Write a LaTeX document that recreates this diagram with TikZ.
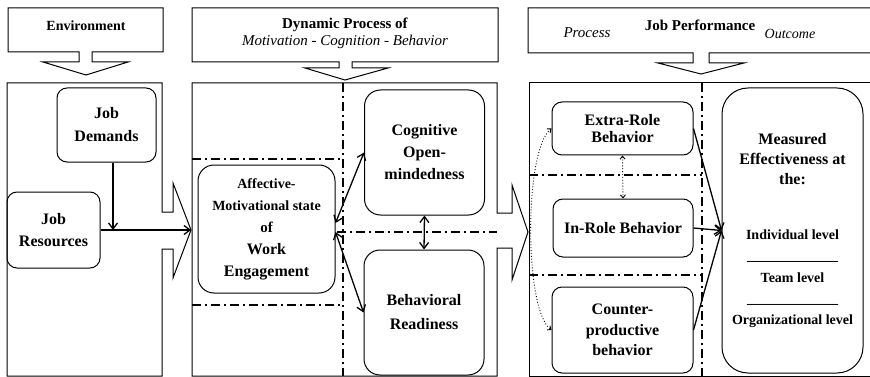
\documentclass[tikz,border=0pt]{standalone}
\usepackage{fontspec}
\setmainfont{Liberation Serif}
\usetikzlibrary{arrows.meta}
\def\fs#1#2{\fontsize{#1}{#2}\selectfont}
\def\uline{\textunderscore\textunderscore\textunderscore\textunderscore\textunderscore\textunderscore\textunderscore\textunderscore\textunderscore\textunderscore\textunderscore\textunderscore\textunderscore}
\tikzset{
	frame/.style={line width=1pt},
	rbox/.style={draw, line width=1pt, rounded corners=10pt, align=center, inner sep=0pt, font=\bfseries\fs{16}{20}},
	dashdot/.style={line width=1.3pt, dash pattern=on 9pt off 4pt on 2pt off 4pt},
	arr/.style={line width=1.3pt, -{Straight Barb[length=6pt,width=9pt]}},
	darr/.style={line width=1.3pt, {Straight Barb[length=6pt,width=9pt]}-{Straight Barb[length=6pt,width=9pt]}},
	dotarr/.style={line width=0.9pt, dotted, {Straight Barb[length=3pt,width=5pt]}-{Straight Barb[length=3pt,width=5pt]}}
}
\begin{document}
\begin{tikzpicture}[x=1pt,y=-1pt]
		%%%%% START %%%%%
		\useasboundingbox (0,0) rectangle (870,377);
		
		% headers with their arrows
		\draw[frame] (8,8) -- (163,8) -- (163,52) -- (92,52) -- (92,62) -- (128,62) -- (86,75) -- (43,62) -- (79,62) -- (79,52) -- (8,52) -- cycle;
		\draw[frame] (192,8) -- (498,8) -- (498,62) -- (352,62) -- (352,68) -- (388,68) -- (345,80) -- (305,68) -- (339,68) -- (339,62) -- (192,62) -- cycle;
		\draw[frame] (880,8) -- (528,8) -- (528,53) -- (693,53) -- (693,63) -- (658,63) -- (701,74) -- (744,63) -- (709,63) -- (709,53) -- (880,53);
		
		\node[font=\bfseries\fs{14}{17}] (henv) at (86,26) {Environment};
		\node[align=center, font=\fs{15}{17}] (hdyn) at (345,33) {\textbf{Dynamic Process of}\\\textit{Motivation - Cognition - Behavior}};
		\node[font=\bfseries\fs{15}{17}] (hjob) at (700,25) {Job Performance};
		\node[font=\itshape\fs{15}{17}] (hproc) at (587,33) {Process};
		\node[font=\itshape\fs{14}{17}] (hout) at (790,34) {Outcome};
		
		% panels
		\draw[frame] (162,83) -- (7,83) -- (7,376) -- (162,376) -- (162,249) -- (173,249) -- (173,278) -- (191,230) -- (173,183) -- (173,212) -- (162,212) -- cycle;
		\draw[frame] (497,83) -- (192,83) -- (192,376) -- (497,376) -- (497,248) -- (512,248) -- (512,280) -- (528,232) -- (512,185) -- (512,213) -- (497,213) -- cycle;
		\draw[frame] (880,83) -- (529,83) -- (529,376) -- (880,376);
		
		\draw[dashdot] (343,83) -- (343,376);
		\draw[dashdot] (192,159) -- (343,159);
		\draw[dashdot] (192,305) -- (343,305);
		\draw[dashdot] (337,232) -- (497,232);
		\draw[dashdot] (702,83) -- (702,376);
		\draw[dashdot] (529,175) -- (702,175);
		\draw[dashdot] (529,275) -- (702,275);
		
		% boxes
		\node[rbox, minimum width=99pt, minimum height=74pt, font=\bfseries\fs{16}{23}] (dem) at (106.5,125) {Job\\Demands};
		\node[rbox, minimum width=93pt, minimum height=76pt, font=\bfseries\fs{16}{22}] (res) at (53.5,230) {Job\\Resources};
		\node[rbox, rounded corners=16pt, minimum width=137pt, minimum height=128pt, font=\bfseries\fs{16}{22}] (aff) at (266.5,229) {{\fs{14}{22}Affective-}\\{\fs{14}{22}Motivational state}\\{\fs{15}{22}of}\\Work\\Engagement};
		\node[rbox, rounded corners=16pt, minimum width=120pt, minimum height=125pt, font=\bfseries\fs{16}{22}] (cog) at (424.5,152.5) {Cognitive\\Open-\\mindedness};
		\node[rbox, rounded corners=16pt, minimum width=120pt, minimum height=125pt, font=\bfseries\fs{16}{24}] (beh) at (424,312.5) {Behavioral\\Readiness};
		\node[rbox, minimum width=141pt, minimum height=53pt, font=\bfseries\fs{16}{17}] (ext) at (622.5,128.5) {Extra-Role\\Behavior};
		\node[rbox, minimum width=140pt, minimum height=58pt] (inr) at (623,228) {In-Role Behavior};
		\node[rbox, minimum width=141pt, minimum height=86pt, font=\bfseries\fs{16}{20.5}] (cnt) at (622.5,330) {Counter-\\productive\\behavior};
		\node[rbox, rounded corners=26pt, minimum width=141pt, minimum height=285pt] (mea) at (792.5,230.5) {Measured\\Effectiveness at\\the:\\[35pt]{\fs{14}{20}Individual level}\\[1.25pt]{\fs{14}{20}\uline}\\[1.25pt]{\fs{14}{20}Team level}\\[1.25pt]{\fs{14}{20}\uline}\\[1.25pt]{\fs{14}{20}Organizational level}};
		
		% connectors
		\coordinate (jn) at (113,230);
		\coordinate (tip) at (191,230);
		\draw[arr] (dem.south -| jn) -- (jn);
		\draw[arr] (res.east) -- (tip);
		\draw[darr] ([yshift=6pt]aff.east) -- (cog.west);
		\draw[darr] ([yshift=-3pt]aff.east) -- (beh.west);
		\draw[darr] (cog.south) -- (beh.north);
		\draw[arr] (ext.east) -- (mea.west);
		\draw[arr] (inr.east) -- (mea.west);
		\draw[arr] (cnt.east) -- (mea.west);
		\draw[dotarr] (ext.west) .. controls (524,150) and (524,310) .. (cnt.west);
		\draw[dotarr] (ext.south) -- (inr.north);
		
		%%%%% END %%%%%
	\end{tikzpicture}
\end{document}
